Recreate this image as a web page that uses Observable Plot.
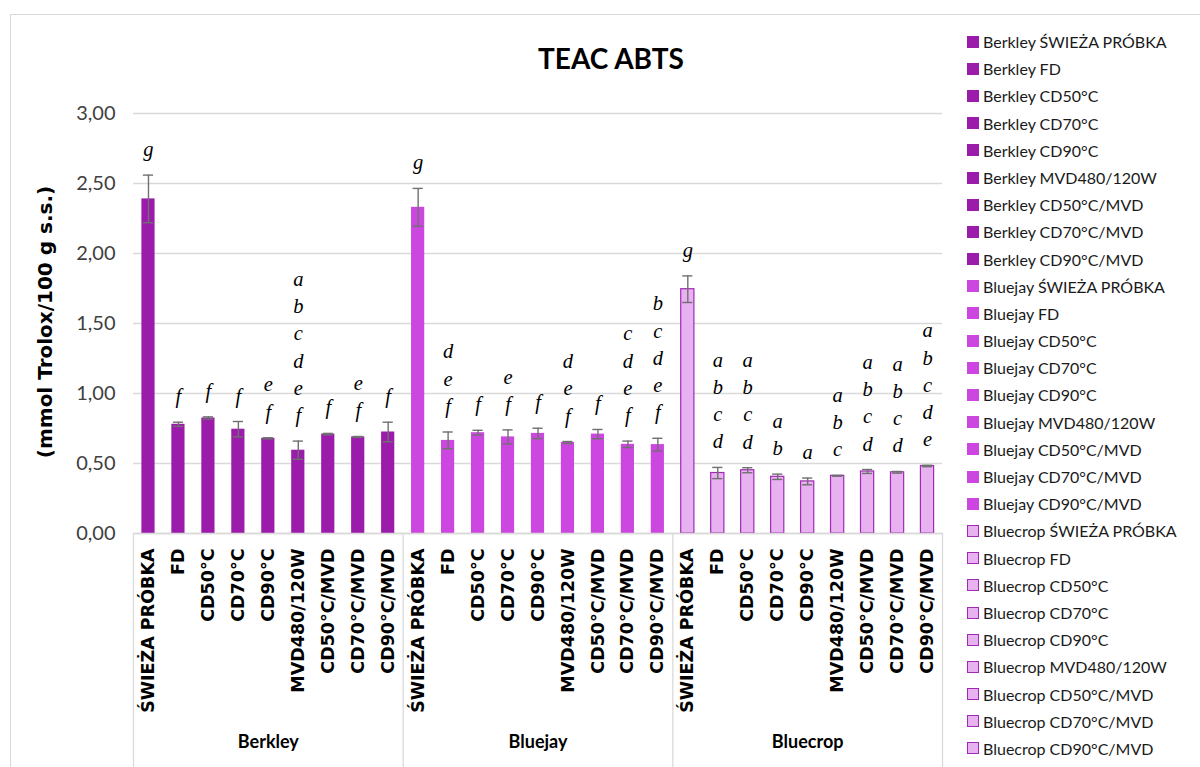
<!DOCTYPE html>
<html><head><meta charset="utf-8">
<script src="https://cdn.jsdelivr.net/npm/d3@7"></script>
<script src="https://cdn.jsdelivr.net/npm/@observablehq/plot@0.6"></script>
<style>
body{margin:0;background:#fff;}
#wrap{position:relative;width:1200px;height:767px;overflow:hidden;background:#fff;}
#border{position:absolute;left:10px;top:14px;width:1400px;height:900px;border:1.5px solid #d9d9d9;box-sizing:border-box;}
#chart{position:absolute;left:0;top:0;}
#title{position:absolute;left:411px;width:400px;top:40px;text-align:center;font:bold 28px Lato,sans-serif;color:#000;line-height:36px;}
#ylab{position:absolute;left:45px;top:322px;transform:translate(-50%,-50%) rotate(-90deg);white-space:nowrap;font:bold 20px "DejaVu Sans",sans-serif;color:#000;}
#legend{position:absolute;left:967px;top:28px;font:16px Lato,sans-serif;color:#1a1a1a;}
.li{height:27.2px;line-height:27.2px;white-space:nowrap;display:flex;align-items:center;}
.sw{width:12px;height:12px;box-sizing:border-box;margin-right:4px;flex:none;}
</style></head><body>
<div id="wrap">
  <div id="border"></div>
  <div id="chart"></div>
  <div id="title">TEAC ABTS</div>
  <div id="ylab">(mmol Trolox/100 g s.s.)</div>
  <div id="legend"></div>
</div>
<script>
const groups = ["Berkley", "Bluejay", "Bluecrop"];
const samples = ["ŚWIEŻA PRÓBKA", "FD", "CD50°C", "CD70°C", "CD90°C", "MVD480/120W", "CD50°C/MVD", "CD70°C/MVD", "CD90°C/MVD"];
const berkleyMean = [2.39, 0.78, 0.825, 0.745, 0.68, 0.595, 0.71, 0.69, 0.725];
const berkleySd   = [0.17, 0.015, 0.008, 0.055, 0.004, 0.065, 0.005, 0.003, 0.07];
const bluejayMean = [2.33, 0.665, 0.72, 0.69, 0.715, 0.65, 0.71, 0.637, 0.635];
const bluejaySd   = [0.135, 0.06, 0.017, 0.05, 0.037, 0.007, 0.033, 0.023, 0.045];
const bluecropMean = [1.745, 0.432, 0.452, 0.405, 0.372, 0.412, 0.443, 0.437, 0.482];
const bluecropSd   = [0.095, 0.04, 0.018, 0.019, 0.024, 0.003, 0.014, 0.006, 0.005];
const berkleyLetters  = ["g", "f", "f", "f", "ef", "abcdef", "f", "ef", "f"];
const bluejayLetters  = ["g", "def", "f", "ef", "f", "def", "f", "cdef", "bcdef"];
const bluecropLetters = ["g", "abcd", "abcd", "ab", "a", "abc", "abcd", "abcd", "abcde"];
const yTicks = [0, 0.5, 1, 1.5, 2, 2.5, 3];

const fills = ["#9B1BAB", "#CC47DF", "#E8B2F1"];
const strokes = ["none", "none", "#A02AB4"];

const means = [berkleyMean, bluejayMean, bluecropMean];
const sds = [berkleySd, bluejaySd, bluecropSd];
const letters = [berkleyLetters, bluejayLetters, bluecropLetters];

const rows = groups.flatMap((g, gi) => samples.map((s, si) => ({
  group: g, sample: s, key: g + "|" + s,
  mean: means[gi][si], sd: sds[gi][si], letters: letters[gi][si]
})));
const keys = rows.map(d => d.key);

const W = 1200, H = 767, mL = 133, mR = 258, mT = 113, mB = 234;
const step = (W - mL - mR) / keys.length;
const groupStarts = groups.map(g => g + "|" + samples[0]);
const groupEnds = [groups[groups.length - 1] + "|" + samples[samples.length - 1]];
const groupMid = groups.map(g => ({group: g, key: g + "|" + samples[4]}));

const chart = Plot.plot({
  width: W, height: H,
  marginLeft: mL, marginRight: mR, marginTop: mT, marginBottom: mB,
  style: {background: "transparent", overflow: "visible"},
  x: {domain: keys, paddingInner: 0.56, paddingOuter: 0.28, round: false, axis: null},
  y: {domain: [0, 3], axis: null},
  color: {domain: groups, range: fills},
  marks: [
    Plot.gridY(yTicks, {stroke: "#d9d9d9", strokeOpacity: 1, strokeWidth: 1.3}),
    Plot.axisY(yTicks, {
      tickSize: 0, tickPadding: 18, fontSize: 20, fill: "#404040", label: null,
      fontFamily: "Lato",
      tickFormat: d => d.toFixed(2).replace(".", ",")
    }),
    Plot.axisX({
      tickRotate: -90, tickSize: 0, tickPadding: 15, label: null,
      fontSize: 17.5, fontFamily: "DejaVu Sans", fontWeight: "bold", fill: "#000",
      tickFormat: k => k.split("|")[1]
    }),
    Plot.barY(rows, {
      x: "key", y: "mean", fill: "group",
      stroke: d => strokes[groups.indexOf(d.group)], strokeWidth: 1.2
    }),
    Plot.ruleX(rows, {x: "key", y1: d => d.mean - d.sd, y2: d => d.mean + d.sd, stroke: "#707070", strokeWidth: 1.4}),
    Plot.tickY(rows, {x: "key", y: d => d.mean + d.sd, stroke: "#707070", strokeWidth: 1.4, insetLeft: 1.5, insetRight: 1.5}),
    Plot.tickY(rows, {x: "key", y: d => d.mean - d.sd, stroke: "#707070", strokeWidth: 1.4, insetLeft: 1.5, insetRight: 1.5}),
    Plot.text(rows, {
      x: "key", y: d => d.mean + d.sd,
      text: d => d.letters.split("").join("\n"),
      lineAnchor: "bottom", dy: -19, lineHeight: 1.33,
      fontFamily: "Liberation Serif", fontStyle: "italic", fontSize: 20.5, fill: "#000"
    }),
    Plot.ruleY([0], {stroke: "#d9d9d9", strokeWidth: 1.3}),
    Plot.ruleX(groupStarts, {x: d => d, dx: -step / 2, insetTop: H - mT - mB, insetBottom: -mB, stroke: "#d9d9d9", strokeWidth: 1.3}),
    Plot.ruleX(groupEnds, {x: d => d, dx: step / 2, insetTop: H - mT - mB, insetBottom: -mB, stroke: "#d9d9d9", strokeWidth: 1.3}),
    Plot.text(groupMid, {
      x: "key", frameAnchor: "bottom", dy: 214, text: "group",
      fontFamily: "Lato", fontWeight: "bold", fontSize: 18, fill: "#000"
    })
  ]
});
document.getElementById("chart").appendChild(chart);

const legend = document.getElementById("legend");
groups.forEach((g, gi) => samples.forEach(s => {
  const li = document.createElement("div");
  li.className = "li";
  const sw = document.createElement("span");
  sw.className = "sw";
  sw.style.background = fills[gi];
  if (strokes[gi] !== "none") sw.style.border = "1px solid " + strokes[gi];
  li.appendChild(sw);
  li.appendChild(document.createTextNode(g + " " + s));
  legend.appendChild(li);
}));
</script>
</body></html>
